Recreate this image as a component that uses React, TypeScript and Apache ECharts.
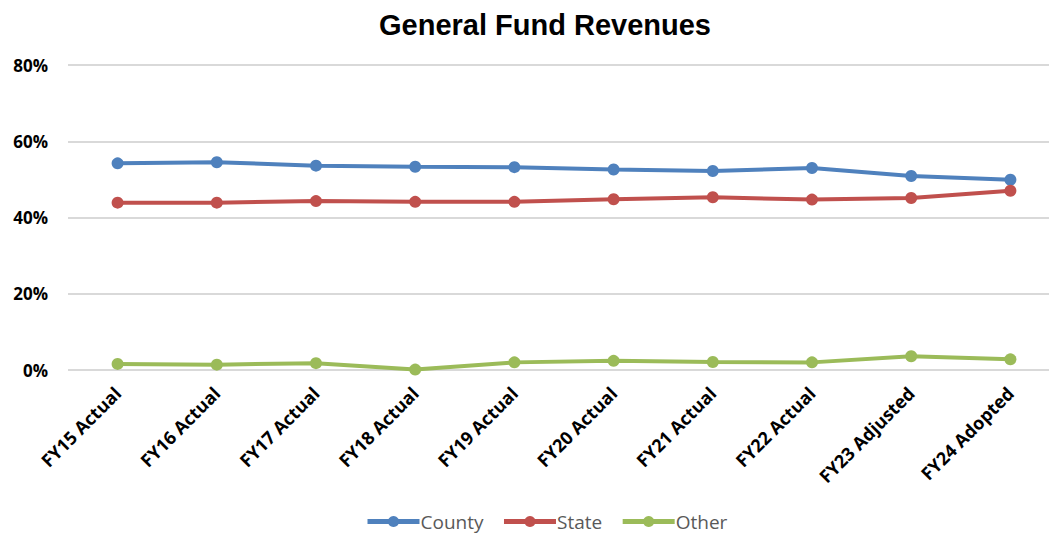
import React, { useEffect, useRef } from "react";
import * as echarts from "echarts";

const categories = [
  "FY15 Actual", "FY16 Actual", "FY17 Actual", "FY18 Actual", "FY19 Actual",
  "FY20 Actual", "FY21 Actual", "FY22 Actual", "FY23 Adjusted", "FY24 Adopted",
];
const county = [54.2, 54.5, 53.6, 53.3, 53.2, 52.6, 52.2, 53.0, 50.9, 49.9];
const state = [43.9, 43.9, 44.3, 44.1, 44.1, 44.8, 45.3, 44.7, 45.1, 47.0];
const other = [1.6, 1.4, 1.8, 0.1, 2.0, 2.4, 2.1, 2.0, 3.6, 2.8];
const yTicks = [0, 20, 40, 60, 80];

export default function App() {
  const ref = useRef<HTMLDivElement>(null);
  useEffect(() => {
    const chart = echarts.init(ref.current!, null, { renderer: "svg" });
    const mk = (name: string, data: number[], color: string) => ({
      name,
      type: "line",
      data,
      symbol: "circle",
      symbolSize: 12,
      lineStyle: { width: 4, color },
      itemStyle: { color },
    });
    chart.setOption({
      animation: false,
      title: {
        text: "General Fund Revenues",
        left: 540,
        textAlign: "center",
        top: 5,
        textStyle: { fontFamily: "Liberation Sans", fontWeight: "bold", fontSize: 29, color: "#000" },
      },
      legend: {
        top: 507,
        left: 360,
        itemWidth: 52,
        itemHeight: 14,
        itemGap: 18,
        lineStyle: { width: 5 },
        textStyle: { fontFamily: "Open Sans", fontSize: 19, color: "#595959", padding: [0, 0, 0, -4] },
        data: ["County", "State", "Other"],
      },
      grid: { left: 68, top: 65, width: 992, bottom: 163, containLabel: false },
      xAxis: {
        type: "category",
        data: categories,
        boundaryGap: true,
        axisLine: { show: false },
        axisTick: { show: false },
        axisLabel: {
          rotate: 45,
          margin: 20,
          interval: 0,
          fontFamily: "Open Sans",
          fontWeight: "bold",
          fontSize: 18,
          color: "#000",
        },
      },
      yAxis: {
        type: "value",
        min: yTicks[0],
        max: yTicks[yTicks.length - 1],
        interval: 20,
        axisLine: { show: false },
        axisTick: { show: false },
        splitLine: { lineStyle: { color: "#d9d9d9", width: 2 } },
        axisLabel: {
          formatter: (v: number) => v + "%",
          margin: 20,
          fontFamily: "Open Sans",
          fontWeight: "bold",
          fontSize: 17,
          color: "#000",
        },
      },
      series: [
        mk("County", county, "#4F81BD"),
        mk("State", state, "#C0504D"),
        mk("Other", other, "#9BBB59"),
      ],
    });
    return () => chart.dispose();
  }, []);
  return (
    <div style={{ width: 1049, height: 533, position: "absolute", left: 0, top: 0, overflow: "hidden" }}>
      <div ref={ref} style={{ width: 1062, height: 533 }} />
    </div>
  );
}
